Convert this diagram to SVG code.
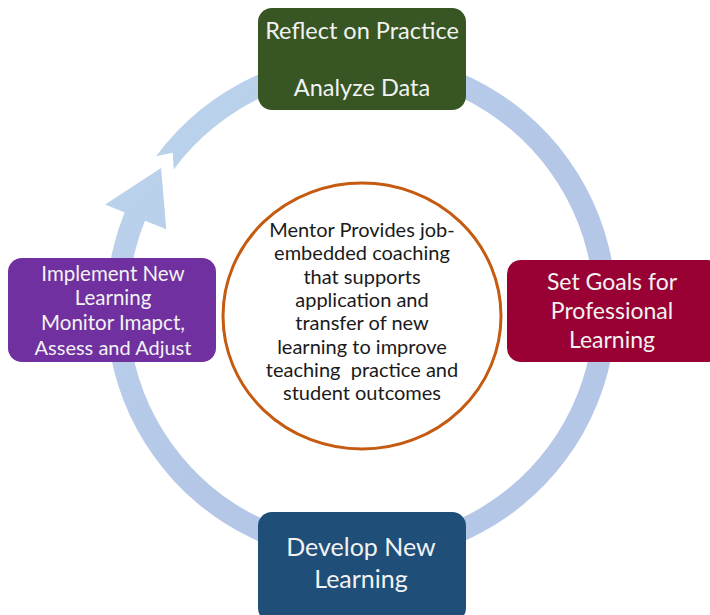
<svg xmlns="http://www.w3.org/2000/svg" width="710" height="615" viewBox="0 0 710 615">
<style>
.box text{font-family:Lato,"Open Sans","Liberation Sans",sans-serif;fill:#f2f2f2;text-anchor:middle}
.ctr text{font-family:Lato,"Open Sans","Liberation Sans",sans-serif;fill:#1a1a1a;text-anchor:middle;font-size:20px;white-space:pre}
</style>
<defs>
<linearGradient id="ringg" x1="0" y1="0" x2="1" y2="1">
<stop offset="0" stop-color="#bdd6ee"/>
<stop offset="0.5" stop-color="#b4c7e7"/>
<stop offset="1" stop-color="#b4c7e7"/>
</linearGradient>
</defs>
<rect width="710" height="615" fill="#ffffff"/>
<g id="connectors">
<path d="M 156.0 156.3 A 255 255 0 1 1 124.6 212.5 L 105.1 204.6 L 161.1 168.0 L 166.3 229.3 L 145.0 220.7 A 233 233 0 1 0 173.7 169.4 L 172.7 152.8 Z" fill="url(#ringg)"/>
</g>
<g id="center" class="ctr">
<ellipse cx="362" cy="316" rx="139" ry="133" fill="#ffffff" stroke="#c55a11" stroke-width="3"/>
<text x="362" y="237">Mentor Provides job-</text>
<text x="362" y="260">embedded coaching</text>
<text x="362" y="284">that supports</text>
<text x="362" y="307">application and</text>
<text x="362" y="330">transfer of new</text>
<text x="362" y="354">learning to improve</text>
<text x="362" y="377" xml:space="preserve">teaching  practice and</text>
<text x="362" y="400">student outcomes</text>
</g>
<g id="reflect" class="box">
<rect x="258" y="8" width="208" height="102" rx="14" fill="#375623"/>
<text x="362" y="39" font-size="23.5">Reflect on Practice</text>
<text x="362" y="96" font-size="23.5">Analyze Data</text>
</g>
<g id="goals" class="box">
<rect x="507" y="260" width="215" height="102" rx="14" fill="#990033"/>
<text x="612" y="290" font-size="23">Set Goals for</text>
<text x="612" y="319" font-size="23">Professional</text>
<text x="612" y="348" font-size="23">Learning</text>
</g>
<g id="develop" class="box">
<rect x="258" y="512" width="208" height="110" rx="14" fill="#1f4e79"/>
<text x="361" y="556" font-size="25">Develop New</text>
<text x="361" y="588" font-size="25">Learning</text>
</g>
<g id="implement" class="box">
<rect x="8" y="258" width="208" height="104" rx="14" fill="#7030a0"/>
<text x="113" y="281" font-size="20.5">Implement New</text>
<text x="113" y="305" font-size="20.5">Learning</text>
<text x="113" y="330" font-size="20.5">Monitor Imapct,</text>
<text x="113" y="355" font-size="20">Assess and Adjust</text>
</g>
</svg>
